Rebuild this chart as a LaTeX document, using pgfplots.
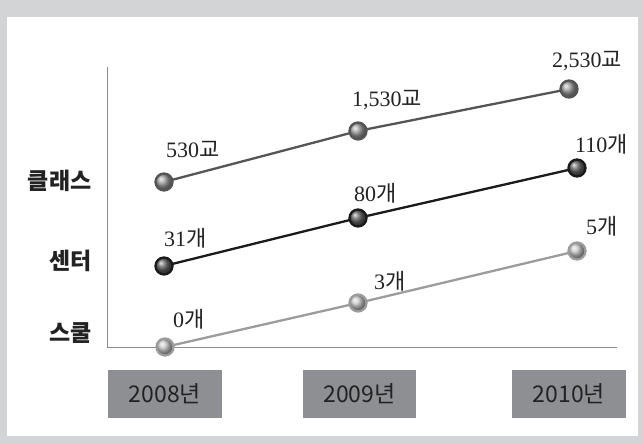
\documentclass[border=0pt]{standalone}
\usepackage{pgfplots}
\pgfplotsset{compat=1.18}
\usepackage{pgfplotstable}
\usepackage{fontspec}
\setmainfont{Liberation Serif}
\newfontfamily\kr{Noto Sans CJK KR}
\newcommand\kyo{{\kr 교}}
\newcommand\gae{{\kr 개}}
\definecolor{framegray}{HTML}{D3D4D6}
\definecolor{boxgray}{HTML}{8E8F93}
\definecolor{topline}{HTML}{555555}
\definecolor{midline}{HTML}{1A1A1A}
\definecolor{botline}{HTML}{9C9C9C}
\definecolor{axgray}{HTML}{8C8C8C}
\definecolor{txt}{HTML}{222222}

% x, y in pixel units (y measured upward); label offsets dx, dy
\pgfplotstableread{
x y dx dy label
164 262 1 24 530\kyo
358 313 -7 24 1,530\kyo
569 355 -18 21 2,530\kyo
}\classdata
\pgfplotstableread{
x y dx dy label
164 178 -1 19 31\gae
358 226 -5 16 80\gae
577 276 -3 15 110\gae
}\centerdata
\pgfplotstableread{
x y dx dy label
165 97 7 19 0\gae
358 141 15 13 3\gae
577 193 8 16 5\gae
}\schooldata

\pgfplotsset{series/.style={
    line width=2.3pt, mark=ball, mark size=8.5pt,
    nodes near coords, point meta=explicit symbolic,
    visualization depends on={\thisrow{dx}\as\dx},
    visualization depends on={\thisrow{dy}\as\dy},
    nodes near coords style={anchor=base west, xshift=\dx pt, yshift=\dy pt,
      font=\fontsize{22}{25}\selectfont, text=txt, inner sep=0pt},
}}

\begin{document}
\begin{tikzpicture}
\fill[framegray] (0,0) rectangle (643pt,444pt);
\fill[white] (7pt,8pt) rectangle (638pt,427pt);
\begin{axis}[
  x=1pt, y=1pt, xmin=0, xmax=643, ymin=0, ymax=444,
  hide axis, clip=false, anchor=origin, at={(0pt,0pt)},
]
\draw[axgray, line width=1pt] (axis cs:107,377) -- (axis cs:107,96) -- (axis cs:617,96);

\addplot[series, topline, mark options={ball color=gray!75, draw=none}] table[x=x, y=y, meta=label] {\classdata};
\addplot[series, midline, mark options={ball color=black!62, draw=none}] table[x=x, y=y, meta=label] {\centerdata};
\addplot[series, botline, mark options={ball color=gray!45, draw=none}] table[x=x, y=y, meta=label] {\schooldata};

\node[anchor=east, text=txt, font={\kr\bfseries\fontsize{23}{26}\selectfont}] at (axis cs:95,263) {클래스};
\node[anchor=east, text=txt, font={\kr\bfseries\fontsize{23}{26}\selectfont}] at (axis cs:95,183) {센터};
\node[anchor=east, text=txt, font={\kr\bfseries\fontsize{23}{26}\selectfont}] at (axis cs:95,111) {스쿨};

\node[fill=boxgray, minimum width=114pt, minimum height=48pt, inner sep=0pt, text=txt, font={\kr\fontsize{23}{26}\selectfont}] at (axis cs:165,50) {2008년};
\node[fill=boxgray, minimum width=113pt, minimum height=48pt, inner sep=0pt, text=txt, font={\kr\fontsize{23}{26}\selectfont}] at (axis cs:359.5,50) {2009년};
\node[fill=boxgray, minimum width=114pt, minimum height=48pt, inner sep=0pt, text=txt, font={\kr\fontsize{23}{26}\selectfont}] at (axis cs:569,50) {2010년};
\end{axis}
\end{tikzpicture}
\end{document}
